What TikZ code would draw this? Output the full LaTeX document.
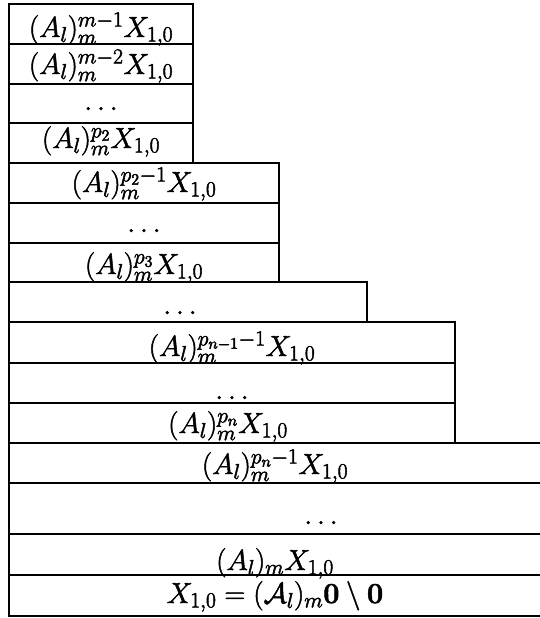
\documentclass[tikz,border=0pt]{standalone}
\usepackage{fix-cm}
\DeclareMathSizes{29}{29}{21.5}{16}
\newcommand{\heavy}[1]{\special{pdf:code q 2 Tr 0.5 w}#1\special{pdf:code Q}}
\begin{document}
\begin{tikzpicture}[x=1pt,y=-1pt,
  rowbox/.style={draw=black,line width=1.5pt,inner sep=0pt,outer sep=0pt,
    text depth=0pt,font=\fontsize{29}{34}\selectfont},
  blkA/.style={rowbox,minimum width=184pt},
  blkB/.style={rowbox,minimum width=270pt},
  blkC/.style={rowbox,minimum width=358pt},
  blkD/.style={rowbox,minimum width=446pt},
  blkE/.style={rowbox,minimum width=532pt}]
\useasboundingbox (0,0) rectangle (539,618);
% block 1 (x 9..193)
\node[blkA,minimum height=40pt,text height=26pt] (b1) at (101,24) {\heavy{$(A_l)_m^{m-1}X_{1,0}$}};
\node[blkA,minimum height=40pt,text height=20pt] (b2) at (101,64) {\heavy{$(A_l)_m^{m-2}X_{1,0}$}};
\node[blkA,minimum height=39pt,text height=13pt] (b3) at (101,103.5) {\heavy{$\ldots$}};
\node[blkA,minimum height=40pt,text height=10pt] (b4) at (101,143) {\heavy{$(A_l)_m^{p_2}X_{1,0}$}};
% block 2 (x 9..279)
\node[blkB,minimum height=40pt,text height=18pt] (b5) at (144,183) {\heavy{$(A_l)_m^{p_2-1}X_{1,0}$}};
\node[blkB,minimum height=40pt,text height=18pt] (b6) at (144,223) {\heavy{$\ldots$}};
\node[blkB,minimum height=39pt,text height=23pt] (b7) at (144,262.5) {\heavy{$(A_l)_m^{p_3}X_{1,0}$}};
% block 3 (x 9..367)
\node[blkC,minimum height=40pt,text height=24pt] (b8) at (188,302) {\heavy{$\ldots$}\hspace*{16pt}};
% block 4 (x 9..455)
\node[blkD,minimum height=41pt,text height=27pt] (b9) at (232,342.5) {\heavy{$(A_l)_m^{p_{n-1}-1}X_{1,0}$}};
\node[blkD,minimum height=40pt,text height=32pt] (b10) at (232,383) {\heavy{$\ldots$}};
\node[blkD,minimum height=40pt,text height=20pt] (b11) at (232,423) {\heavy{$(A_l)_m^{p_n}X_{1,0}$}\hspace*{8pt}};
% block 5 (x 9..541, right side outside the page)
\node[blkE,minimum height=40pt,text height=22pt] (b12) at (275,463) {\heavy{$(A_l)_m^{p_n-1}X_{1,0}$}};
\node[blkE,minimum height=51pt,text height=31pt] (b13) at (275,508.5) {\hspace*{92pt}\heavy{$\ldots$}};
\node[blkE,minimum height=41pt,text height=31pt] (b14) at (275,554.5) {\heavy{$(A_l)_mX_{1,0}$}};
\node[blkE,minimum height=41pt,text height=15pt] (b15) at (275,595.5) {\heavy{$X_{1,0}=(\mathcal{A}_l)_m\mathbf{0}\setminus\mathbf{0}$}};
\end{tikzpicture}
\end{document}
